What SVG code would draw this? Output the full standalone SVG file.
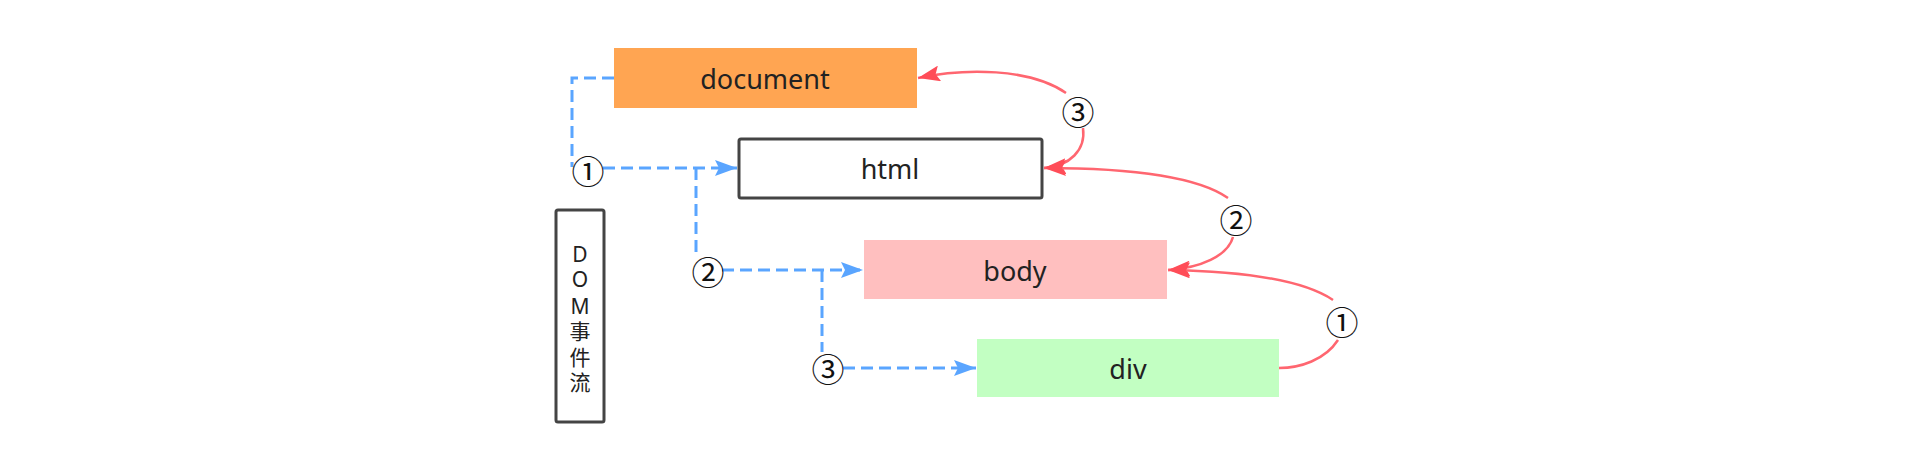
<svg xmlns="http://www.w3.org/2000/svg" width="1912" height="450" viewBox="0 0 1912 450">
<defs>
<style>
.lbl{font-family:"Noto Sans","DejaVu Sans",sans-serif;font-size:27px;fill:#222;text-anchor:middle;dominant-baseline:central}
.num{font-family:"Noto Sans CJK SC","DejaVu Sans",sans-serif;font-size:33px;fill:#111;text-anchor:middle;dominant-baseline:central}
.side{font-family:"Noto Sans","Noto Sans CJK SC",sans-serif;font-size:21px;fill:#222;text-anchor:middle;dominant-baseline:central}
.blue{fill:none;stroke:#5AA5FF;stroke-width:3;stroke-dasharray:12 6}
.red{fill:none;stroke:#FF6670;stroke-width:2.5}
</style>
<marker id="ab" markerUnits="userSpaceOnUse" markerWidth="24" markerHeight="16" refX="22" refY="8" orient="auto">
<path d="M0,0 L22,8 L0,16 L4,8 z" fill="#5AA5FF"/>
</marker>
<marker id="ar" markerUnits="userSpaceOnUse" markerWidth="24" markerHeight="16" refX="22" refY="8" orient="auto">
<path d="M0,0 L22,8 L0,16 L4,8 z" fill="#FF4D58"/>
</marker>
</defs>
<rect width="1912" height="450" fill="#fff"/>

<g id="document">
<rect x="614" y="48" width="303" height="60" fill="#FFA552"/>
<text class="lbl" x="765" y="78">document</text>
</g>
<g id="html">
<rect x="739" y="139" width="303" height="59" rx="2" fill="#fff" stroke="#444" stroke-width="3"/>
<text class="lbl" x="890" y="168">html</text>
</g>
<g id="body">
<rect x="864" y="240" width="303" height="59" fill="#FFBFBF"/>
<text class="lbl" x="1015" y="270">body</text>
</g>
<g id="div">
<rect x="977" y="339" width="302" height="58" fill="#C2FFC2"/>
<text class="lbl" x="1128" y="368">div</text>
</g>
<g id="legend">
<rect x="556" y="210" width="48" height="212" rx="2" fill="#fff" stroke="#444" stroke-width="3"/>
<text class="side" x="580" y="254">D</text>
<text class="side" x="580" y="279">O</text>
<text class="side" x="580" y="306">M</text>
<text class="side" x="580" y="331">事</text>
<text class="side" x="580" y="357">件</text>
<text class="side" x="580" y="382">流</text>
</g>

<g id="connectors">
<path class="blue" d="M614 78 H572 V167"/>
<path class="blue" d="M603 168 H737" marker-end="url(#ab)"/>
<path class="blue" d="M696 168 V252"/>
<path class="blue" d="M722 270 H863" marker-end="url(#ab)"/>
<path class="blue" d="M822 270 V352"/>
<path class="blue" d="M843 368 H976" marker-end="url(#ab)"/>

<path class="red" d="M1066 93 C1030 68 965 68 918 78" marker-end="url(#ar)"/>
<path class="red" d="M1083 128 C1086 150 1070 166 1044 168" marker-end="url(#ar)"/>
<path class="red" d="M1228 198 C1195 175 1120 168 1044 168" marker-end="url(#ar)"/>
<path class="red" d="M1233 237 C1228 256 1200 268 1168 270" marker-end="url(#ar)"/>
<path class="red" d="M1333 300 C1300 278 1230 271 1168 270" marker-end="url(#ar)"/>
<path class="red" d="M1338 340 C1325 360 1300 368 1279 368"/>

<text class="num" x="588" y="170">①</text>
<text class="num" x="708" y="271">②</text>
<text class="num" x="828" y="368">③</text>
<text class="num" x="1078" y="111">③</text>
<text class="num" x="1236" y="219">②</text>
<text class="num" x="1342" y="321">①</text>
</g>
</svg>
